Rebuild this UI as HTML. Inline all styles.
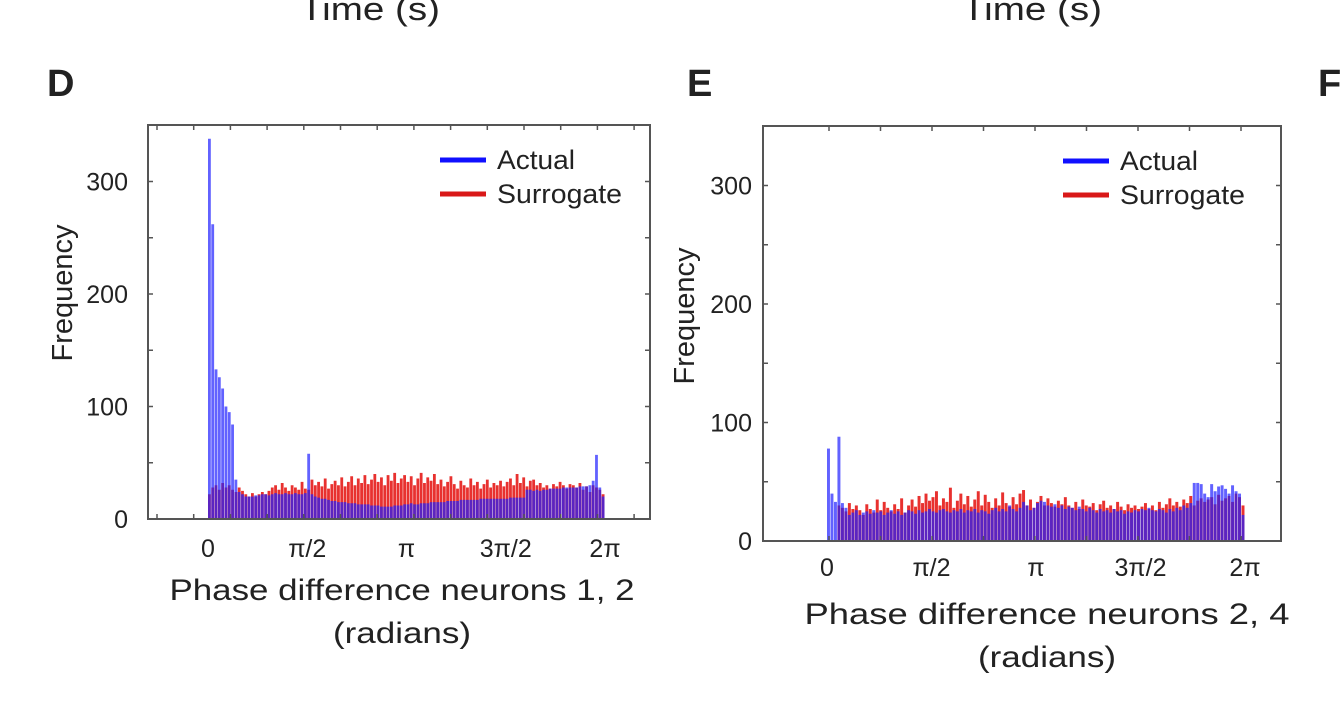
<!DOCTYPE html>
<html><head><meta charset="utf-8"><style>
body{margin:0;background:#fff;width:1343px;height:721px;overflow:hidden;font-family:"Liberation Sans",sans-serif}
text{font-family:"Liberation Sans",sans-serif;fill:#222}
</style></head><body>
<svg id="fig" width="1343" height="721" viewBox="0 0 1343 721" xmlns="http://www.w3.org/2000/svg">
<text x="300" y="20" font-size="32" textLength="140" lengthAdjust="spacingAndGlyphs">Time (s)</text>
<text x="962" y="20" font-size="32" textLength="140" lengthAdjust="spacingAndGlyphs">Time (s)</text>
<text x="47" y="96" font-size="38" font-weight="bold">D</text>
<text x="687" y="96" font-size="38" font-weight="bold">E</text>
<text x="1318" y="96" font-size="38" font-weight="bold">F</text>
</svg>
<script>
const xTickLabels=["0","π/2","π","3π/2","2π"];
const yTicks=[0,100,200,300];
const actualD=[338,262,133,126,116,100,95,84,35,24,
22,20,20,20,21,21,22,22,21,22,23,22,22,23,22,22,23,22,22,23,
58,22,20,19,18,18,17,16,16,15,15,15,14,14,14,13,13,13,13,12,
12,12,11,11,11,11,12,12,12,13,13,14,13,13,14,14,14,15,15,15,
15,15,16,16,16,16,17,17,17,17,17,17,18,18,18,18,18,18,18,18,
18,19,19,19,19,19,26,26,25,26,
25,26,26,27,27,27,27,28,28,28,28,28,29,29,29,30,34,57,28,20];
const surrogateD=[22,28,30,26,32,28,30,26,24,28,
25,22,20,23,20,22,24,22,25,28,30,26,32,28,25,30,28,26,33,27,
26,35,30,33,29,36,27,31,34,30,37,29,33,38,30,36,32,39,31,35,
40,33,37,30,39,34,41,32,36,39,33,38,30,36,41,32,37,34,40,31,
35,29,33,38,31,27,34,30,28,36,30,33,27,31,35,28,32,30,34,29,
33,36,30,40,32,37,29,34,35,30,32,28,30,27,31,29,33,30,27,31,
30,28,32,26,29,24,30,28,26,22];
const actualE=[78,40,33,88,32,28,22,24,26,22,
24,25,23,26,24,25,22,24,26,23,25,22,24,26,25,23,26,24,25,27,
25,24,26,27,25,24,26,25,27,24,26,25,27,24,26,25,23,26,28,25,
27,25,30,27,25,28,33,30,26,28,32,34,33,30,29,31,28,30,27,29,
28,26,29,27,25,28,26,24,27,25,26,24,27,25,26,23,25,24,26,25,
27,26,28,26,25,27,26,24,27,25,28,26,30,28,32,49,49,48,40,37,
48,42,46,47,44,40,47,42,40,22];
const surrogateE=[0,0,0,30,28,25,32,27,30,26,
22,31,27,24,35,26,33,28,25,31,27,36,24,30,35,29,38,32,40,34,
37,42,30,36,33,45,28,34,40,31,38,29,35,42,30,39,33,28,36,30,
41,32,29,37,31,40,43,30,35,28,33,38,30,36,32,29,34,31,37,30,
28,33,27,35,30,29,32,26,31,34,28,30,27,33,29,26,31,28,30,27,
29,32,27,30,26,33,28,31,36,30,33,29,35,32,38,30,34,36,33,35,
37,31,39,34,36,38,33,40,37,30];
const NS="http://www.w3.org/2000/svg";
const svg=document.getElementById('fig');
function mk(tag,attrs,parent){const e=document.createElementNS(NS,tag);for(const k in attrs)e.setAttribute(k,attrs[k]);(parent||svg).appendChild(e);return e;}
function panel(p,actual,surrogate){
  const g=mk('g',{});
  
  
  const yS=v=>p.y0-v*p.pxPer;
  const n=actual.length;const bw=(p.x2pi-p.x0)/n;
  const xS=i=>p.x0+i*bw;
  surrogate.forEach((v,i)=>{if(v<=0)return;const r=mk('rect',{x:xS(i),y:yS(v),width:bw*0.85,height:p.y0-yS(v),fill:'#e8312f'},g);
    
    });
  actual.forEach((v,i)=>{if(v<=0)return;const r=mk('rect',{x:xS(i),y:yS(v),width:bw*0.85,height:p.y0-yS(v),fill:'#2020ff','fill-opacity':0.7},g);
    
    });
  const box=mk('rect',{x:p.bx,y:p.by,width:p.bw,height:p.bh,fill:'none',stroke:'#555','stroke-width':2},g);
  
  
  for(let x=p.tick0;x<p.bx+p.bw-3;x+=p.tickStep){
    mk('line',{x1:x,y1:p.by,x2:x,y2:p.by+5,stroke:'#555','stroke-width':1.5},g);
    mk('line',{x1:x,y1:p.by+p.bh,x2:x,y2:p.by+p.bh-5,stroke:'#555','stroke-width':1.5},g);
  }
  for(let v=50;v<350;v+=50){const y=yS(v);if(y<p.by)continue;
    mk('line',{x1:p.bx,y1:y,x2:p.bx+5,y2:y,stroke:'#555','stroke-width':1.5},g);
    mk('line',{x1:p.bx+p.bw,y1:y,x2:p.bx+p.bw-5,y2:y,stroke:'#555','stroke-width':1.5},g);}
  yTicks.forEach(v=>{const t=mk('text',{x:p.ylx,y:yS(v)+9,'font-size':25,'text-anchor':'end'},g);t.textContent=v;
    
    });
  xTickLabels.forEach((s,i)=>{const t=mk('text',{x:p.x0+i*(p.x2pi-p.x0)/4,y:p.xly,'font-size':25,'text-anchor':'middle'},g);t.textContent=s;
    
    });
  const yt=mk('text',{x:0,y:0,'font-size':29,'text-anchor':'middle',transform:`translate(${p.ytx},${p.yty}) rotate(-90)`},g);yt.textContent='Frequency';
  
  
  const xt1=mk('text',{x:p.xtx-p.xtw/2,y:p.xty,'font-size':30,textLength:p.xtw,lengthAdjust:'spacingAndGlyphs'},g);xt1.textContent=p.xtitle;
  
  
  const xt2=mk('text',{x:p.xtx-69,y:p.xty+43,'font-size':30,textLength:138,lengthAdjust:'spacingAndGlyphs'},g);xt2.textContent='(radians)';
  
  
  [['Actual','#1010ff',0,78],['Surrogate','#d91818',34,125]].forEach(([s,c,dy,w])=>{
    const l=mk('line',{x1:p.lx,y1:p.ly+dy,x2:p.lx+46,y2:p.ly+dy,stroke:c,'stroke-width':5},g);
    
    
    const t=mk('text',{x:p.lx+57,y:p.ly+dy+9,'font-size':27,textLength:w,lengthAdjust:'spacingAndGlyphs'},g);t.textContent=s;
    
    
  });
}
panel({id:'panel-d',bx:148,by:125,bw:502,bh:394,y0:519,pxPer:1.125,x0:208,x2pi:605,tick0:157,tickStep:36.7,
  ylx:128,xly:557,ytx:72,yty:293,xtx:402,xty:600,xtw:465,xtitle:'Phase difference neurons 1, 2',lx:440,ly:160},actualD,surrogateD);
panel({id:'panel-e',bx:763,by:126,bw:518,bh:415,y0:541,pxPer:1.185,x0:827,x2pi:1245,tick0:829,tickStep:51.5,
  ylx:752,xly:576,ytx:694,yty:316,xtx:1047,xty:624,xtw:485,xtitle:'Phase difference neurons 2, 4',lx:1063,ly:161},actualE,surrogateE);
</script>
</body></html>
